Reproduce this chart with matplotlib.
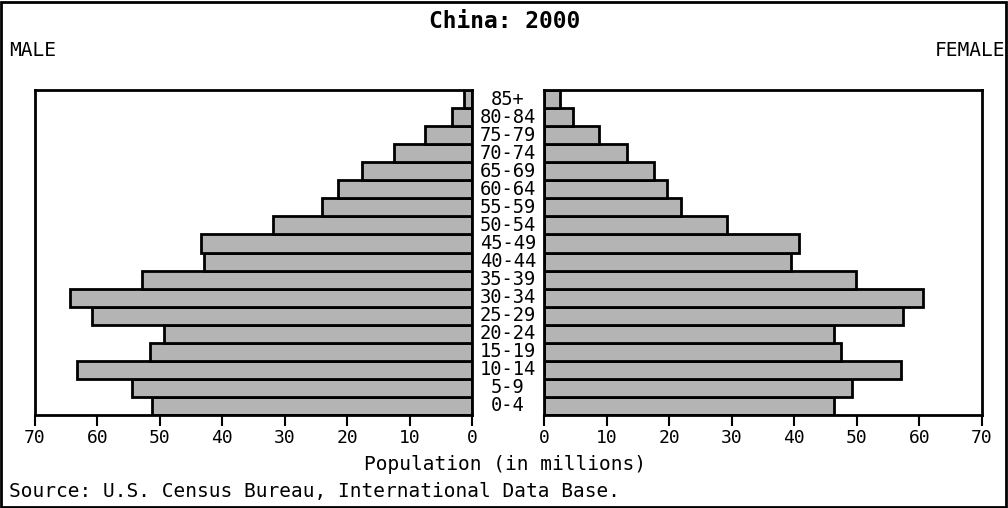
import numpy as np
import matplotlib
matplotlib.use("Agg")
import matplotlib.pyplot as plt
import matplotlib.transforms as mtransforms
from matplotlib.patches import Rectangle

# age groups, bottom to top
ages = ["0-4", "5-9", "10-14", "15-19", "20-24", "25-29", "30-34", "35-39",
        "40-44", "45-49", "50-54", "55-59", "60-64", "65-69", "70-74",
        "75-79", "80-84", "85+"]

# population in millions
male = [51.3, 54.5, 63.2, 51.6, 49.4, 60.9, 64.4, 52.9, 42.9, 43.4,
        31.9, 24.0, 21.4, 17.7, 12.5, 7.5, 3.2, 1.3]
female = [46.4, 49.3, 57.0, 47.4, 46.4, 57.3, 60.6, 49.9, 39.4, 40.7,
          29.2, 21.9, 19.6, 17.5, 13.2, 8.8, 4.6, 2.6]

xticks = [0, 10, 20, 30, 40, 50, 60, 70]

font = "DejaVu Sans Mono"
bar_color = "#b4b4b4"

fig = plt.figure(figsize=(10.08, 5.08), dpi=100)
fig.patch.set_facecolor("white")

y = np.arange(len(ages))

ax_m = fig.add_axes([35 / 1008, 93 / 508, 437 / 1008, 325 / 508])
ax_f = fig.add_axes([544 / 1008, 93 / 508, 438 / 1008, 325 / 508])

ax_m.barh(y, male, height=1.0, color=bar_color, edgecolor="black", linewidth=2)
ax_f.barh(y, female, height=1.0, color=bar_color, edgecolor="black", linewidth=2)

ax_m.set_xlim(70, 0)
ax_f.set_xlim(0, 70)

for ax in (ax_m, ax_f):
    ax.set_ylim(-0.5, len(ages) - 0.5)
    ax.set_yticks([])
    ax.set_xticks(xticks)
    ax.set_xticklabels([str(t) for t in xticks], fontfamily=font, fontsize=13)
    ax.tick_params(axis="x", direction="out", length=8, width=1.5, pad=2)
    for s in ax.spines.values():
        s.set_linewidth(2)

# age labels between the two halves
trans = mtransforms.blended_transform_factory(fig.transFigure, ax_m.transData)
for yi, a in zip(y, ages):
    ax_m.text(508 / 1008, yi, a, transform=trans, ha="center", va="center",
              fontfamily=font, fontsize=13.5, clip_on=False)

fig.text(505 / 1008, 1 - 22 / 508, "China: 2000", ha="center", va="center",
         fontfamily=font, fontsize=16.5, fontweight="bold")
fig.text(9 / 1008, 1 - 50 / 508, "MALE", ha="left", va="center",
         fontfamily=font, fontsize=14)
fig.text(1005 / 1008, 1 - 50 / 508, "FEMALE", ha="right", va="center",
         fontfamily=font, fontsize=14)
fig.text(505 / 1008, 1 - 465 / 508, "Population (in millions)", ha="center",
         va="center", fontfamily=font, fontsize=14)
fig.text(9 / 1008, 1 - 492 / 508,
         "Source: U.S. Census Bureau, International Data Base.",
         ha="left", va="center", fontfamily=font, fontsize=14)

# outer frame
fig.patches.append(Rectangle((0.001, 0.002), 0.997, 0.995, transform=fig.transFigure,
                             fill=False, edgecolor="black", linewidth=2))

fig.savefig("out.png", dpi=100)
